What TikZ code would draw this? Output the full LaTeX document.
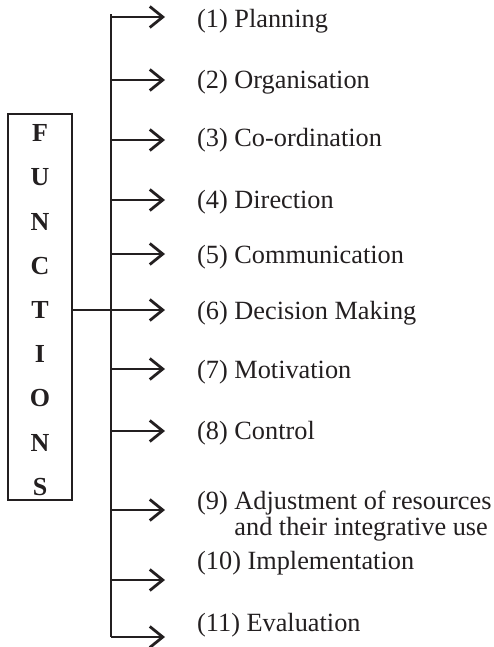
\documentclass[tikz,border=0pt]{standalone}
\usepackage{fontspec}
\setmainfont{Liberation Serif}
\usetikzlibrary{arrows.meta}
\definecolor{ink}{HTML}{231F20}
\tikzset{
  conn/.style={draw=ink, line width=2.8pt},
  arr/.style={conn, -{Straight Barb[length=13pt,width=21pt]}},
  lbl/.style={anchor=base west, inner sep=0pt, text=ink, font=\fontsize{26.3}{26}\selectfont, align=left},
  letter/.style={inner sep=0pt, text=ink, font=\fontsize{26}{26}\bfseries\selectfont},
  fbox/.style={draw=ink, line width=2pt, minimum width=64pt, minimum height=386pt, inner sep=0pt}
}
\begin{document}
\begin{tikzpicture}[x=1pt,y=-1pt]
\useasboundingbox (0,0) rectangle (494,647);
% box
\node[fbox] (fn) at (40,307) {};
\foreach \c [count=\i] in {F,U,N,C,T,I,O,N,S}
  \node[letter] (l\i) at (40,{133+44.25*(\i-1)}) {\c};
% spine coordinates
\foreach \y [count=\i] in {17,80,140,200,254,310,369,431,510,580,637} {
  \coordinate (s\i) at (111,\y);
  \coordinate (a\i) at (165,\y);
}
\coordinate (top) at (111,14.5);
\draw[conn] (top) -- (s11);
\draw[conn] (fn.east |- s6) -- (s6);
\foreach \i in {1,...,11}
  \draw[arr] (s\i) -- (a\i);
% labels
\node[lbl] (t1) at (197,28) {(1) Planning};
\node[lbl] (t2) at (197,89) {(2) Organisation};
\node[lbl] (t3) at (197,147) {(3) Co-ordination};
\node[lbl] (t4) at (197,208) {(4) Direction};
\node[lbl] (t5) at (197,263) {(5) Communication};
\node[lbl] (t6) at (197,319) {(6) Decision Making};
\node[lbl] (t7) at (197,378) {(7) Motivation};
\node[lbl] (t8) at (197,439) {(8) Control};
\node[lbl] (t9) at (197,535) {(9) Adjustment of resources\\\phantom{(9) }and their integrative use};
\node[lbl] (t10) at (197,569) {(10) Implementation};
\node[lbl] (t11) at (197,631) {(11) Evaluation};
\end{tikzpicture}
\end{document}
